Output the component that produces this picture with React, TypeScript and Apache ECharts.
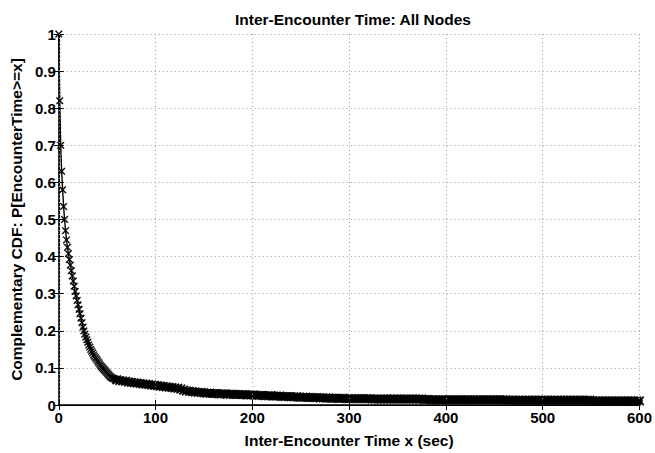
import React, { useEffect, useRef } from "react";
import * as echarts from "echarts";

// CCDF values, one per second from 0 s to 60 s
const ccdfHead: number[] = [
  1.0, 0.82, 0.7, 0.63, 0.58, 0.535, 0.5, 0.47, 0.445, 0.425,
  0.408, 0.392, 0.377, 0.362, 0.348, 0.334, 0.32, 0.306, 0.294, 0.282,
  0.27, 0.258, 0.246, 0.234, 0.222, 0.21, 0.2, 0.191, 0.183, 0.176,
  0.169, 0.162, 0.156, 0.15, 0.145, 0.14, 0.135, 0.131, 0.127, 0.123,
  0.119, 0.115, 0.111, 0.107, 0.104, 0.101, 0.098, 0.095, 0.092, 0.089,
  0.086, 0.083, 0.08, 0.077, 0.075, 0.073, 0.072, 0.071, 0.07, 0.069,
  0.068,
];
const headStart = 0;
const headStep = 1;

// CCDF values, every 3 s from 63 s to 600 s
const ccdfTail: number[] = [
  0.066, 0.065, 0.064, 0.062, 0.061, 0.06, 0.059, 0.058, 0.057, 0.056,
  0.055, 0.054, 0.053, 0.052, 0.051, 0.05, 0.049, 0.048, 0.047, 0.046,
  0.045, 0.043, 0.04, 0.038, 0.037, 0.036, 0.035, 0.034, 0.034, 0.033,
  0.032, 0.032, 0.031, 0.031, 0.03, 0.03, 0.03, 0.029, 0.029, 0.029,
  0.028, 0.028, 0.028, 0.028, 0.027, 0.027, 0.027, 0.026, 0.026, 0.026,
  0.025, 0.025, 0.025, 0.024, 0.024, 0.024, 0.023, 0.023, 0.023, 0.022,
  0.022, 0.022, 0.021, 0.021, 0.021, 0.02, 0.02, 0.02, 0.02, 0.019,
  0.019, 0.019, 0.019, 0.018, 0.018, 0.018, 0.018, 0.018, 0.017, 0.017,
  0.017, 0.017, 0.017, 0.017, 0.017, 0.017, 0.017, 0.016, 0.016, 0.016,
  0.016, 0.016, 0.016, 0.016, 0.016, 0.016, 0.016, 0.016, 0.016, 0.016,
  0.016, 0.016, 0.016, 0.016, 0.016, 0.015, 0.015, 0.014, 0.014, 0.014,
  0.014, 0.014, 0.014, 0.014, 0.014, 0.014, 0.014, 0.014, 0.014, 0.014,
  0.014, 0.014, 0.014, 0.014, 0.014, 0.014, 0.014, 0.014, 0.014, 0.014,
  0.014, 0.014, 0.014, 0.014, 0.013, 0.013, 0.013, 0.013, 0.013, 0.013,
  0.013, 0.013, 0.013, 0.013, 0.013, 0.013, 0.013, 0.013, 0.013, 0.013,
  0.013, 0.013, 0.013, 0.013, 0.013, 0.013, 0.013, 0.013, 0.013, 0.013,
  0.013, 0.013, 0.013, 0.011, 0.011, 0.011, 0.011, 0.011, 0.011, 0.011,
  0.011, 0.011, 0.011, 0.011, 0.011, 0.011, 0.011, 0.011, 0.011, 0.011,
];
const tailStart = 63;
const tailStep = 3;

const titleText = "Inter-Encounter Time: All Nodes";
const xName = "Inter-Encounter Time x (sec)";
const yName = "Complementary CDF: P[EncounterTime>=x]";

const FONT = "'Liberation Sans', Arial, Helvetica, sans-serif";
const CROSS = "path://M0,1L1,0L5,4L9,0L10,1L6,5L10,9L9,10L5,6L1,10L0,9L4,5Z";

export default function App() {
  const ref = useRef<HTMLDivElement>(null);

  useEffect(() => {
    if (!ref.current) return;
    const chart = echarts.init(ref.current, undefined, { renderer: "svg" });

    const headPoints: [number, number][] = ccdfHead.map((v, i) => [headStart + i * headStep, v]);
    const tailPoints: [number, number][] = [headPoints[headPoints.length - 1]];
    ccdfTail.forEach((v, i) => tailPoints.push([tailStart + i * tailStep, v]));

    const tickStyle = { fontFamily: FONT, fontWeight: "bold" as const, fontSize: 15, color: "#000" };
    const nameStyle = { fontFamily: FONT, fontWeight: "bold" as const, fontSize: 15.5, color: "#000" };
    const mainLine = { show: true, lineStyle: { color: "#000", width: 1.6 } };
    const sideLine = { show: true, lineStyle: { color: "#000", width: 1.1 } };
    const axisTick = { show: true, inside: true, length: 5, lineStyle: { color: "#000", width: 1 } };
    const splitLine = { show: true, lineStyle: { color: "#9a9a9a", type: [1, 3] as any, width: 1 } };

    chart.setOption({
      animation: false,
      backgroundColor: "#fff",
      title: {
        text: titleText,
        left: 348,
        top: 6,
        textAlign: "center",
        textStyle: nameStyle,
      },
      grid: { left: 57, right: 15, top: 34, bottom: 36, containLabel: false },
      xAxis: [
        {
          type: "value",
          min: 0,
          max: 600,
          interval: 100,
          name: xName,
          nameLocation: "middle",
          nameGap: 27,
          nameTextStyle: nameStyle,
          axisLine: mainLine,
          axisTick,
          axisLabel: { ...tickStyle, margin: 5 },
          splitLine,
          z: 5,
        },
        {
          type: "value",
          position: "top",
          min: 0,
          max: 600,
          interval: 100,
          axisLine: sideLine,
          axisTick,
          axisLabel: { show: false },
          splitLine: { show: false },
        },
      ],
      yAxis: [
        {
          type: "value",
          min: 0,
          max: 1,
          interval: 0.1,
          name: yName,
          nameLocation: "middle",
          nameGap: 26,
          nameTextStyle: nameStyle,
          axisLine: mainLine,
          axisTick,
          axisLabel: { ...tickStyle, margin: 3 },
          splitLine,
        },
        {
          type: "value",
          position: "right",
          min: 0,
          max: 1,
          interval: 0.1,
          axisLine: sideLine,
          axisTick,
          axisLabel: { show: false },
          splitLine: { show: false },
        },
      ],
      series: [
        {
          type: "line",
          xAxisIndex: 0,
          yAxisIndex: 0,
          data: headPoints,
          showSymbol: true,
          showAllSymbol: true,
          symbol: CROSS,
          symbolSize: 7,
          itemStyle: { color: "#000", borderColor: "#000", borderWidth: 0.5 },
          lineStyle: { color: "#000", width: 1.4 },
        },
        {
          type: "line",
          xAxisIndex: 0,
          yAxisIndex: 0,
          data: tailPoints,
          showSymbol: true,
          showAllSymbol: true,
          symbol: CROSS,
          symbolSize: 9,
          itemStyle: { color: "#000", borderColor: "#000", borderWidth: 0.8 },
          lineStyle: { color: "#000", width: 6.5, join: "round", cap: "round" },
        },
      ],
    });

    return () => chart.dispose();
  }, []);

  return (
    <div
      ref={ref}
      style={{ position: "absolute", left: 0, top: 0, width: 655, height: 453, background: "#fff" }}
    />
  );
}
